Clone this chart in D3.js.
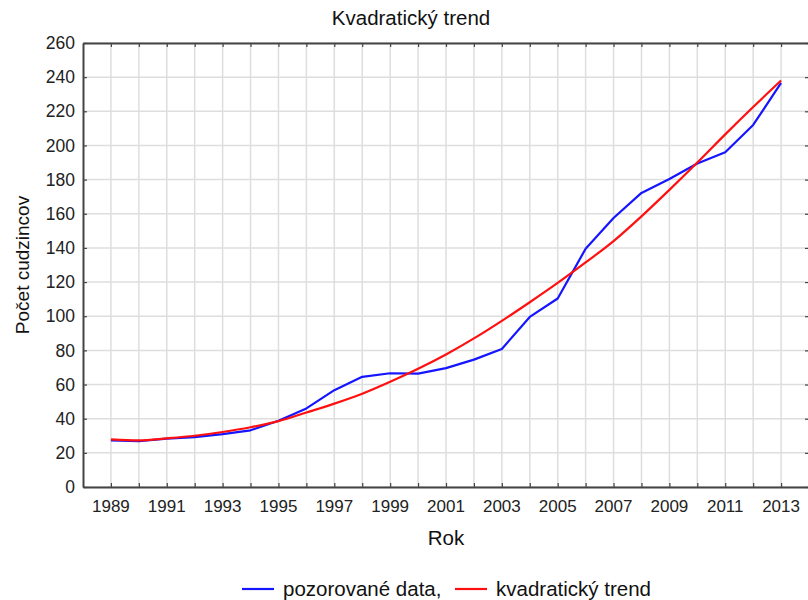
<!DOCTYPE html>
<html>
<head>
<meta charset="utf-8">
<script src="https://cdn.jsdelivr.net/npm/d3@7"></script>
<style>
  body { margin: 0; background: #fff; }
  svg { font-family: "Liberation Sans", Arial, sans-serif; }
</style>
</head>
<body>
<script>
const years = d3.range(1989, 2014);
const observed = [27.3, 26.8, 28.3, 29.2, 31.0, 33.2, 38.8, 46.0, 56.7, 64.5, 66.6, 66.4, 69.6, 74.6,
  80.8, 99.6, 110.4, 139.5, 157.5, 172.2, 180.4, 189.4, 196.0, 212.0, 236.6];
const trend = [27.9, 27.3, 28.5, 30.0, 32.2, 35.0, 38.6, 43.6, 48.8, 54.6, 61.6, 69.2, 77.6, 87.0,
  97.3, 108.2, 119.5, 131.5, 144.0, 158.5, 174.0, 190.0, 206.5, 222.5, 238.0];
const yTicks = d3.range(0, 261, 20);
const xLabels = d3.range(1989, 2014, 2);

const width = 808;
const height = 600;
const margin = { top: 43, right: -1, bottom: 113, left: 83 };

const svg = d3.select("body").append("svg")
  .attr("width", width)
  .attr("height", height);

const x = d3.scaleLinear()
  .domain([1988, 2014])
  .range([margin.left, width - margin.right]);

const y = d3.scaleLinear()
  .domain([0, 260])
  .range([height - margin.bottom, margin.top]);

// grid
svg.append("g")
  .selectAll("line")
  .data(years)
  .join("line")
  .attr("x1", d => x(d)).attr("x2", d => x(d))
  .attr("y1", y(0)).attr("y2", y(260))
  .attr("stroke", "#dedede")
  .attr("stroke-width", 1.5);

svg.append("g")
  .selectAll("line")
  .data(yTicks)
  .join("line")
  .attr("x1", x(1988)).attr("x2", x(2014))
  .attr("y1", d => y(d)).attr("y2", d => y(d))
  .attr("stroke", "#dedede")
  .attr("stroke-width", 1.5);

// axes (inner ticks, labels drawn separately)
const axisStyle = g => {
  g.select(".domain").attr("stroke", "#444").attr("stroke-width", 2);
  g.selectAll(".tick line").attr("stroke", "#444").attr("stroke-width", 1.2);
  g.selectAll(".tick text").remove();
};

svg.append("g")
  .attr("transform", `translate(0,${y(0)})`)
  .call(d3.axisBottom(x).tickValues(years).tickSizeInner(-4).tickSizeOuter(0))
  .call(axisStyle);
svg.append("g")
  .attr("transform", `translate(0,${y(260)})`)
  .call(d3.axisTop(x).tickValues(years).tickSizeInner(-4).tickSizeOuter(0))
  .call(axisStyle);
svg.append("g")
  .attr("transform", `translate(${x(1988)},0)`)
  .call(d3.axisLeft(y).tickValues(yTicks).tickSizeInner(-4).tickSizeOuter(0))
  .call(axisStyle);
svg.append("g")
  .attr("transform", `translate(${x(2014)},0)`)
  .call(d3.axisRight(y).tickValues(yTicks).tickSizeInner(-4).tickSizeOuter(0))
  .call(axisStyle);

// tick labels
svg.append("g")
  .selectAll("text")
  .data(xLabels)
  .join("text")
  .attr("x", d => x(d))
  .attr("y", y(0) + 25)
  .attr("text-anchor", "middle")
  .attr("font-size", 17)
  .attr("fill", "#222")
  .text(d => d);

svg.append("g")
  .selectAll("text")
  .data(yTicks)
  .join("text")
  .attr("x", x(1988) - 8)
  .attr("y", d => y(d))
  .attr("dy", "0.35em")
  .attr("text-anchor", "end")
  .attr("font-size", 17.5)
  .attr("fill", "#222")
  .text(d => d);

// lines
const line = d3.line()
  .x((d, i) => x(years[i]))
  .y(d => y(d));

svg.append("path")
  .datum(observed)
  .attr("fill", "none")
  .attr("stroke", "#1515ff")
  .attr("stroke-width", 2.2)
  .attr("stroke-linejoin", "round")
  .attr("d", line);

svg.append("path")
  .datum(trend)
  .attr("fill", "none")
  .attr("stroke", "#ff1010")
  .attr("stroke-width", 2.2)
  .attr("d", line.curve(d3.curveMonotoneX));

// titles
svg.append("text")
  .attr("x", 411)
  .attr("y", 25)
  .attr("text-anchor", "middle")
  .attr("font-size", 20.5)
  .attr("fill", "#111")
  .text("Kvadratický trend");

svg.append("text")
  .attr("x", x(2001))
  .attr("y", 545)
  .attr("text-anchor", "middle")
  .attr("font-size", 20.5)
  .attr("fill", "#111")
  .text("Rok");

svg.append("text")
  .attr("transform", `translate(29,${(y(0) + y(260)) / 2}) rotate(-90)`)
  .attr("text-anchor", "middle")
  .attr("font-size", 19)
  .attr("fill", "#111")
  .text("Počet cudzincov");

// legend
const legend = [
  { label: "pozorované data,", color: "#1515ff", x: 242 },
  { label: "kvadratický trend", color: "#ff1010", x: 455 }
];
const lg = svg.append("g")
  .selectAll("g")
  .data(legend)
  .join("g")
  .attr("transform", d => `translate(${d.x},589)`);
lg.append("line")
  .attr("x1", 0).attr("x2", 32)
  .attr("stroke", d => d.color)
  .attr("stroke-width", 2.2);
lg.append("text")
  .attr("x", 41)
  .attr("dy", "0.35em")
  .attr("font-size", 20.5)
  .attr("fill", "#111")
  .text(d => d.label);
</script>
</body>
</html>
